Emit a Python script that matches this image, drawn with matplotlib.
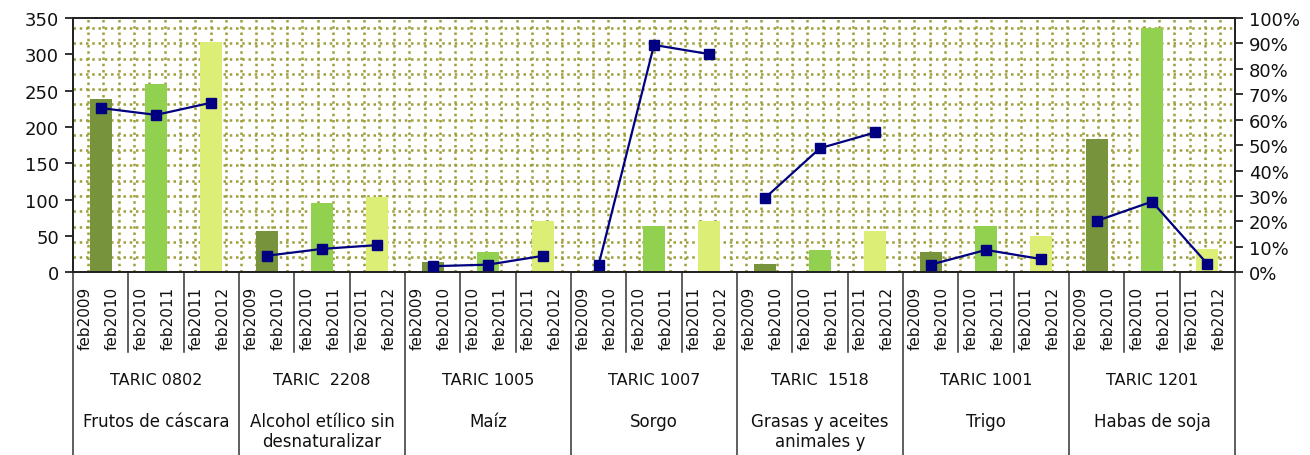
import matplotlib
matplotlib.use("Agg")
import matplotlib.pyplot as plt
from matplotlib.ticker import MultipleLocator, FuncFormatter
import matplotlib.transforms as mtransforms

# ---- data ----
group_codes = ["TARIC 0802", "TARIC  2208", "TARIC 1005", "TARIC 1007",
               "TARIC  1518", "TARIC 1001", "TARIC 1201"]
group_names = ["Frutos de cáscara", "Alcohol etílico sin\ndesnaturalizar", "Maíz",
               "Sorgo", "Grasas y aceites\nanimales y", "Trigo", "Habas de soja"]
periods = ["feb2009\nfeb2010", "feb2010\nfeb2011", "feb2011\nfeb2012"]

values_p1 = [238, 57, 14, 0, 11.5, 28, 183.5]
values_p2 = [259, 95, 27.5, 64, 31, 64, 336]
values_p3 = [317, 103, 71, 70, 57, 50, 32]

share_p1 = [64.6, 6.5, 2.4, 3.0, 29.1, 3.0, 20.2]
share_p2 = [61.9, 9.2, 3.0, 89.4, 48.8, 8.8, 27.8]
share_p3 = [66.7, 10.7, 6.5, 85.8, 55.0, 5.2, 3.3]

bar_colors = ["#77933C", "#92D050", "#DDEE77"]
line_color = "#000080"
grid_color = "#9E9E3A"

plt.rcParams['font.family'] = ['DejaVu Sans']

W, H = 1310, 456
fig = plt.figure(figsize=(W / 100, H / 100), dpi=100)
left, right, top, bottom = 73, 1235, 19, 273.3
ax = fig.add_axes([left / W, 1 - bottom / H, (right - left) / W, (bottom - top) / H])
ax2 = ax.twinx()

n = len(group_codes)
series = [values_p1, values_p2, values_p3]
shares = [share_p1, share_p2, share_p3]

for j, vals in enumerate(series):
    xs = [3 * i + j for i in range(n)]
    ax.bar(xs, vals, width=0.4, color=bar_colors[j], zorder=2)

for i in range(n):
    xs = [3 * i + j for j in range(3)]
    ys = [shares[j][i] for j in range(3)]
    ax2.plot(xs, ys, color=line_color, lw=1.6, marker='s', markersize=7.5,
             markerfacecolor=line_color, markeredgecolor=line_color, zorder=3)

ax.set_xlim(-0.5, 3 * n - 0.5)
ax.set_ylim(0, 350)
ax2.set_ylim(0, 100)

ax.yaxis.set_major_locator(MultipleLocator(50))
ax.yaxis.set_minor_locator(MultipleLocator(21))
ax.xaxis.set_major_locator(MultipleLocator(100))
ax.xaxis.set_minor_locator(MultipleLocator(0.2765, offset=0.05))
ax.set_xticks([])
ax.set_axisbelow(True)
ax.grid(which='minor', color=grid_color, linestyle=(0, (1, 1.5)), linewidth=1.8)
ax.grid(which='major', visible=False)
ax.tick_params(axis='x', which='both', length=0, labelbottom=False)
ax.tick_params(axis='y', which='minor', length=0)
ax.tick_params(axis='y', which='major', direction='out', length=6, width=1.2,
               labelsize=13, pad=4, colors='#111111')

ax2.yaxis.set_major_locator(MultipleLocator(10))
ax2.yaxis.set_major_formatter(FuncFormatter(lambda v, p: f"{v:.0f}%"))
ax2.tick_params(axis='y', direction='out', length=6, width=1.2, labelsize=13, pad=4,
                colors='#111111')

for a in (ax, ax2):
    for s in a.spines.values():
        s.set_color('#222222')
        s.set_linewidth(1.3)

# category area below the axis
trans = mtransforms.blended_transform_factory(ax.transData, ax.transAxes)
sep_short = -(353 - bottom) / (bottom - top)
sep_long = -(H - bottom) / (bottom - top)
for k in range(3 * n + 1):
    xb = k - 0.5
    ybot = sep_long if k % 3 == 0 else sep_short
    ax.plot([xb, xb], [0, ybot], transform=trans, color='#333333', lw=1.1,
            clip_on=False, zorder=1)

lab_top = -(287 - bottom) / (bottom - top)
for i in range(n):
    for j in range(3):
        ax.text(3 * i + j - 0.03, lab_top, periods[j], transform=trans, rotation=90,
                ha='center', va='top', fontsize=11, linespacing=2.0,
                color='#111111')
    ax.text(3 * i + 1, -(381 - bottom) / (bottom - top), group_codes[i],
            transform=trans, ha='center', va='center', fontsize=11.5, color='#111111')
    ax.text(3 * i + 1, -(413 - bottom) / (bottom - top), group_names[i],
            transform=trans, ha='center', va='top', fontsize=12,
            linespacing=1.15, color='#111111')

fig.savefig("out.png", dpi=100)
